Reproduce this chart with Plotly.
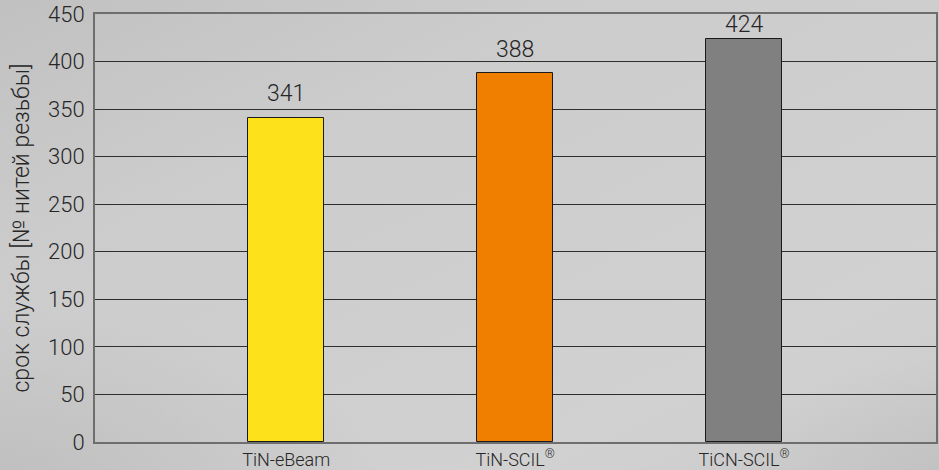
import base64
import plotly.graph_objects as go

# Coating variants and tool life (number of threads cut)
coatings = ["TiN-eBeam", "TiN-SCIL<sup>®</sup>", "TiCN-SCIL<sup>®</sup>"]
threads = [341, 388, 424]
bar_colors = ["#FCE11B", "#F07F00", "#808080"]
y_ticks = [0, 50, 100, 150, 200, 250, 300, 350, 400, 450]
label_lift = [9, 8, -1]  # px gap of each value label above its bar

FONT = "Roboto, sans-serif"
INK = "#262626"

# Soft cloudy grey backdrop built as an inline SVG
svg = """<svg xmlns='http://www.w3.org/2000/svg' width='939' height='470' viewBox='0 0 939 470'>
<defs>
<linearGradient id='g' x1='0' y1='0' x2='1' y2='1'>
<stop offset='0' stop-color='#bebebe'/>
<stop offset='0.3' stop-color='#cccccc'/>
<stop offset='0.7' stop-color='#d1d1d1'/>
<stop offset='1' stop-color='#c6c6c6'/>
</linearGradient>
<radialGradient id='r1' cx='0.05' cy='0.95' r='0.35'>
<stop offset='0' stop-color='#b6b6b6' stop-opacity='0.7'/>
<stop offset='1' stop-color='#b6b6b6' stop-opacity='0'/>
</radialGradient>
<radialGradient id='r2' cx='0.95' cy='0.98' r='0.3'>
<stop offset='0' stop-color='#b2b2b2' stop-opacity='0.6'/>
<stop offset='1' stop-color='#b2b2b2' stop-opacity='0'/>
</radialGradient>
</defs>
<rect width='939' height='470' fill='url(#g)'/>
<rect width='939' height='470' fill='url(#r1)'/>
<rect width='939' height='470' fill='url(#r2)'/>
</svg>"""
bg_uri = "data:image/svg+xml;base64," + base64.b64encode(svg.encode()).decode()

fig = go.Figure(
    go.Bar(
        x=list(range(len(coatings))),
        y=threads,
        width=0.332,
        marker=dict(color=bar_colors, line=dict(color="#1a1a1a", width=1)),
        hoverinfo="skip",
    )
)

# Value labels above each bar
for i, v in enumerate(threads):
    fig.add_annotation(
        x=i, y=v, text=str(v), showarrow=False, yanchor="bottom", yshift=label_lift[i],
        font=dict(family=FONT, size=23, color=INK, weight=300),
    )

fig.update_layout(
    width=939,
    height=470,
    margin=dict(l=95, r=3, t=14, b=28),
    paper_bgcolor="#cacaca",
    plot_bgcolor="rgba(0,0,0,0)",
    showlegend=False,
    bargap=0,
    images=[dict(
        source=bg_uri, xref="paper", yref="paper", x=-0.2, y=1.1,
        sizex=1.4, sizey=1.3, sizing="stretch", layer="below",
        xanchor="left", yanchor="top",
    )],
    xaxis=dict(
        range=[-0.835, 2.838],
        tickmode="array",
        tickvals=list(range(len(coatings))),
        ticktext=coatings,
        tickfont=dict(family=FONT, size=18, color=INK, weight=300),
        showgrid=False,
        zeroline=False,
        showline=True,
        linecolor="#6e6e6e",
        linewidth=2,
        mirror=True,
        ticks="",
        ticklabelstandoff=0,
        automargin=False,
    ),
    yaxis=dict(
        range=[0, 450],
        tickmode="array",
        tickvals=y_ticks,
        tickfont=dict(family=FONT, size=22, color=INK, weight=300),
        showgrid=True,
        gridcolor="#2e2e2e",
        gridwidth=1,
        zeroline=False,
        showline=True,
        linecolor="#6e6e6e",
        linewidth=2,
        mirror=True,
        ticks="",
        ticklabelstandoff=4,
        automargin=False,
        title=dict(
            text="срок службы [№ нитей резьбы]",
            font=dict(family=FONT, size=23, color=INK, weight=300),
            standoff=12,
        ),
    ),
)

fig.write_html("out.html")
